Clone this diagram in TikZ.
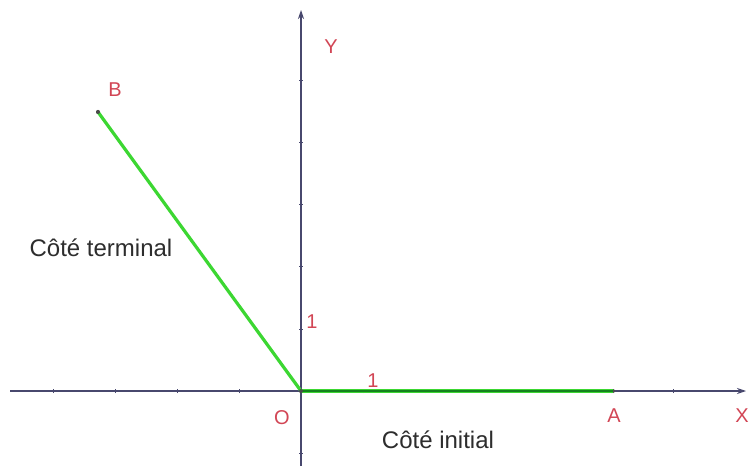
\documentclass[tikz,border=0pt]{standalone}
\usepackage{fontspec}
\setmainfont{Liberation Sans}
\usepackage{xcolor}
\usepackage{tikz}
\usetikzlibrary{arrows.meta, positioning}
\definecolor{AxisNavy}{RGB}{72, 72, 110}
\definecolor{SideGreen}{RGB}{60, 215, 50}
\definecolor{SideDark}{RGB}{20, 130, 30}
\definecolor{LabelRed}{RGB}{210, 70, 85}
\definecolor{TextGrey}{RGB}{45, 45, 45}

\begin{document}
\begin{tikzpicture}[x=1pt,y=1pt,
    axis/.style={AxisNavy, line width=1.2pt, -{Stealth[length=9pt,width=6pt]}},
    tick/.style={AxisNavy, line width=1pt},
    ptlabel/.style={text=LabelRed, font=\fontsize{20}{22}\selectfont, inner sep=0pt},
    sidetext/.style={text=TextGrey, font=\fontsize{24}{26}\selectfont, inner sep=0pt},
    dot/.style={circle, fill=black!70, inner sep=0pt, minimum size=4pt}]
  \path[use as bounding box] (0,0) rectangle (751,466);
  \fill[white] (0,0) rectangle (751,466);
  % axes
  \coordinate (xbeg) at (10,75);
  \coordinate (xend) at (746,75);
  \coordinate (ybeg) at (301,0);
  \coordinate (yend) at (301,456);
  \draw[axis] (xbeg) -- (xend);
  \draw[axis] (ybeg) -- (yend);
  \foreach \k in {-4,...,6}{
    \draw[tick] (301+62*\k,73) -- (301+62*\k,77);
  }
  \foreach \k in {-1,1,2,3,4,5}{
    \draw[tick] (299,75+62*\k) -- (303,75+62*\k);
  }
  % points
  \node[dot] (O) at (301,75) {};
  \node[dot] (A) at (613,75) {};
  \node[dot] (B) at (98,354) {};
  % sides
  \draw[SideGreen, line width=3.2pt] (O.center) -- (B.center);
  \draw[SideGreen, line width=4.4pt] (O.center) -- (A.center);
  \draw[SideDark, line width=2.6pt] (O.center) -- (A.center);
  \node[dot] at (O) {};
  \node[dot] at (B) {};
  % labels
  \node[ptlabel] (labB) at (115,376) {B};
  \node[ptlabel] (labO) at (282,48) {O};
  \node[ptlabel] (labA) at (614,50) {A};
  \node[ptlabel] (labX) at (742,50) {X};
  \node[ptlabel] (labY) at (331,419) {Y};
  \node[ptlabel] (unitY) at (312,144) {1};
  \node[ptlabel] (unitX) at (373,85) {1};
  \node[sidetext] (terminal) at (101,218) {Côté terminal};
  \node[sidetext] (initial) at (438,26) {Côté initial};
\end{tikzpicture}
\end{document}
